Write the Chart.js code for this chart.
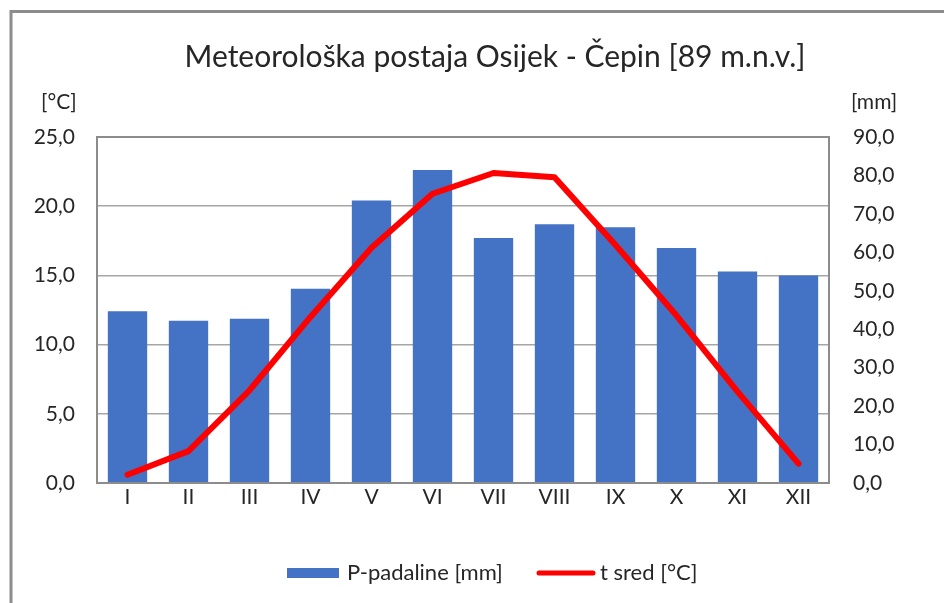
<!DOCTYPE html>
<html>
<head>
<meta charset="utf-8">
<title>Osijek - Čepin</title>
<script src="https://cdn.jsdelivr.net/npm/chart.js@4/dist/chart.umd.min.js"></script>
<style>
  html, body { margin: 0; padding: 0; background: #fff; }
  #wrap { position: relative; width: 944px; height: 603px; }
</style>
</head>
<body>
<div id="wrap"><canvas id="klima" width="944" height="603"></canvas></div>
<script>
const months = ["I", "II", "III", "IV", "V", "VI", "VII", "VIII", "IX", "X", "XI", "XII"];
// monthly precipitation [mm]
const padaline = [44.7, 42.2, 42.7, 50.5, 73.5, 81.4, 63.7, 67.3, 66.5, 61.1, 55.0, 54.0];
// mean air temperature [°C]
const tSred = [0.6, 2.3, 6.7, 12.0, 17.0, 20.9, 22.4, 22.1, 17.2, 12.1, 6.6, 1.4];

const tempTicks = [0, 5, 10, 15, 20, 25];
const rainTicks = [0, 10, 20, 30, 40, 50, 60, 70, 80, 90];

const titleText = "Meteorološka postaja Osijek - Čepin [89 m.n.v.]";
const FONT = "Lato, 'Liberation Sans', sans-serif";
const TXT = "#262626";

const fmt = v => v.toFixed(1).replace(".", ",");

// frame, title, unit captions and legend
const decor = {
  id: "decor",
  beforeDraw(chart) {
    const ctx = chart.ctx;
    ctx.save();
    ctx.strokeStyle = "#8c8c8c";
    ctx.lineWidth = 3;
    ctx.beginPath();
    ctx.moveTo(11, 603);
    ctx.lineTo(11, 11.5);
    ctx.lineTo(944, 11.5);
    ctx.stroke();
    ctx.restore();
  },
  afterDraw(chart) {
    const ctx = chart.ctx;
    const a = chart.chartArea;
    ctx.save();
    // plot border
    ctx.strokeStyle = "#8c8c8c";
    ctx.lineWidth = 2;
    ctx.strokeRect(a.left, a.top, a.right - a.left, a.bottom - a.top);

    ctx.fillStyle = TXT;
    ctx.textBaseline = "alphabetic";
    ctx.font = "30px " + FONT;
    ctx.textAlign = "center";
    ctx.fillText(titleText, 495, 67);

    ctx.font = "21px " + FONT;
    ctx.textAlign = "left";
    ctx.fillText("[°C]", 41, 109);
    ctx.fillText("[mm]", 851, 109);

    // legend
    const [bars, line] = chart.data.datasets;
    const y = 573;
    ctx.font = "22px " + FONT;
    ctx.fillStyle = bars.backgroundColor;
    ctx.fillRect(287, y - 5, 52, 10);
    ctx.fillStyle = TXT;
    ctx.textBaseline = "middle";
    ctx.fillText(bars.label, 347, y);

    ctx.strokeStyle = line.borderColor;
    ctx.lineWidth = 5;
    ctx.lineCap = "round";
    ctx.beginPath();
    ctx.moveTo(539, y);
    ctx.lineTo(593, y);
    ctx.stroke();
    ctx.fillText(line.label, 600, y);
    ctx.restore();
  }
};

new Chart(document.getElementById("klima"), {
  type: "bar",
  data: {
    labels: months,
    datasets: [
      {
        label: "P-padaline [mm]",
        data: padaline,
        yAxisID: "yP",
        backgroundColor: "#4472c4",
        categoryPercentage: 1,
        barPercentage: 0.645,
        order: 1
      },
      {
        type: "line",
        label: "t sred [°C]",
        data: tSred,
        yAxisID: "yT",
        borderColor: "#ff0000",
        backgroundColor: "#ff0000",
        borderWidth: 6,
        borderCapStyle: "round",
        borderJoinStyle: "round",
        pointRadius: 0,
        tension: 0,
        order: 0
      }
    ]
  },
  plugins: [decor],
  options: {
    responsive: false,
    animation: false,
    layout: { padding: { top: 137, left: 0, right: 0, bottom: 0 } },
    plugins: {
      legend: { display: false },
      title: { display: false },
      tooltip: { enabled: false }
    },
    scales: {
      x: {
        grid: { display: false, drawTicks: false },
        border: { display: false },
        ticks: { color: TXT, font: { family: FONT, size: 21 }, padding: 2 },
        afterFit(s) { s.height = 120; }
      },
      yT: {
        position: "left",
        min: 0,
        max: 25,
        afterBuildTicks(s) { s.ticks = tempTicks.map(v => ({ value: v })); },
        grid: { color: "#a6a6a6", lineWidth: 1.5, drawTicks: false },
        border: { display: false },
        ticks: {
          color: TXT,
          font: { family: FONT, size: 21 },
          padding: 22,
          callback: v => fmt(v)
        },
        afterFit(s) { s.width = 97; }
      },
      yP: {
        position: "right",
        min: 0,
        max: 90,
        afterBuildTicks(s) { s.ticks = rainTicks.map(v => ({ value: v })); },
        grid: { display: false, drawTicks: false },
        border: { display: false },
        ticks: {
          color: TXT,
          font: { family: FONT, size: 21 },
          padding: 24,
          callback: v => fmt(v)
        },
        afterFit(s) { s.width = 115; }
      }
    }
  }
});
</script>
</body>
</html>
